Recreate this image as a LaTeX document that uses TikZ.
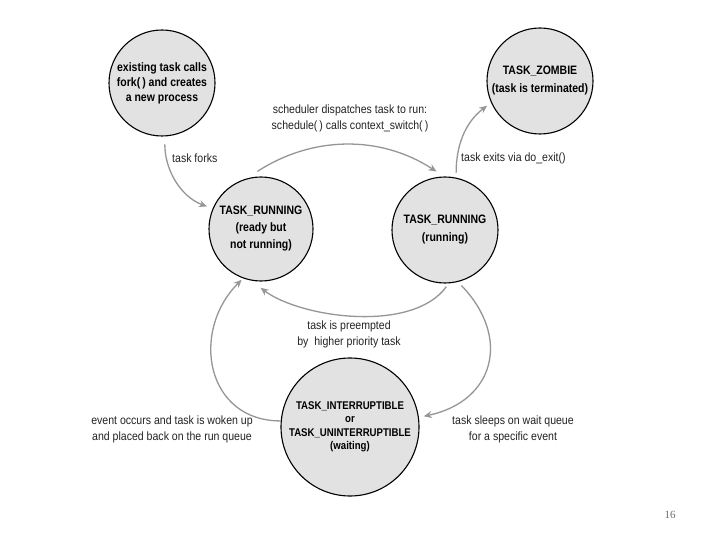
\documentclass[tikz,border=0pt]{standalone}
\usepackage{fontspec}
\setmainfont{Liberation Sans}
\setsansfont{Liberation Sans}
\newfontfamily\boldnarrow[FakeStretch=0.86]{Liberation Sans Bold}
\newfontfamily\labnarrow[FakeStretch=0.88]{Liberation Sans}
\newfontfamily\pagefont{Liberation Serif}
\usetikzlibrary{arrows.meta}
\definecolor{cfill}{RGB}{226,226,226}
\definecolor{arr}{RGB}{150,150,150}
\definecolor{lbl}{RGB}{35,35,35}
\definecolor{pnum}{RGB}{110,110,110}
\begin{document}
\begin{tikzpicture}[x=1pt,y=-1pt,
  state/.style={circle,draw=black,line width=1.1pt,fill=cfill,inner sep=0pt,align=center,
    font=\boldnarrow\fontsize{12.2}{15}\selectfont,text=black},
  lab/.style={align=center,font=\labnarrow\fontsize{12}{16}\selectfont,text=lbl,inner sep=0pt},
  conn/.style={draw=arr,line width=1.3pt,-{Stealth[length=8pt,width=7pt]}}]
\useasboundingbox[fill=white] (0,0) rectangle (720,540);
% states
\node[state,minimum size=106pt] (fork) at (162,83) {existing task calls\\fork(\,) and creates\\a new process};
\node[state,minimum size=106pt,font=\boldnarrow\fontsize{12.2}{18}\selectfont] (zombie) at (540,81) {TASK\_ZOMBIE\\(task is terminated)};
\node[state,minimum size=104pt,font=\boldnarrow\fontsize{12.2}{17}\selectfont] (ready) at (261,229) {TASK\_RUNNING\\(ready but\\not running)};
\node[state,minimum size=106pt,font=\boldnarrow\fontsize{12.2}{18}\selectfont] (running) at (445,230) {TASK\_RUNNING\\(running)};
\node[state,minimum size=138pt,font=\boldnarrow\fontsize{11.2}{13.5}\selectfont] (waiting) at (350,427) {TASK\_INTERRUPTIBLE\\or\\TASK\_UNINTERRUPTIBLE\\(waiting)};
% connectors
\draw[conn,shorten <=8pt,shorten >=6pt] (fork.-87) to[out=-90,in=160] (ready.157);
\draw[conn,shorten <=13pt,shorten >=9pt] (ready.106) to[out=33,in=147] (running.91);
\draw[conn,shorten <=5pt,shorten >=5pt] (running.78) to[out=90,in=-143] (zombie.-156);
\draw[conn,shorten <=4pt,shorten >=12pt] (running.-86) to[out=-126,in=-37,looseness=0.8] (ready.-101);
\draw[conn,shorten <=0pt,shorten >=2pt] (waiting.175) to[out=180,in=-135,looseness=1.3] (ready.-110);
\draw[conn,shorten <=5pt,shorten >=5pt] (running.-76) to[out=-46,in=12,looseness=1.4] (waiting.8);
% labels
\node[lab,anchor=west] (lforks) at (172,158) {task forks};
\node[lab] (lsched) at (350,118.5) {scheduler dispatches task to run:\\schedule(\,) calls context\_switch(\,)};
\node[lab,anchor=west] (lexit) at (461,158) {task exits via do\_exit()};
\node[lab] (lpre) at (349,334) {task is preempted\\by\ \ higher priority task};
\node[lab] (lwake) at (172,429) {event occurs and task is woken up\\and placed back on the run queue};
\node[lab] (lsleep) at (513,429) {task sleeps on wait queue\\for a specific event};
\node[font=\pagefont\fontsize{11}{13}\selectfont,text=pnum,inner sep=0pt] (pagenum) at (670,515) {16};
\end{tikzpicture}
\end{document}
